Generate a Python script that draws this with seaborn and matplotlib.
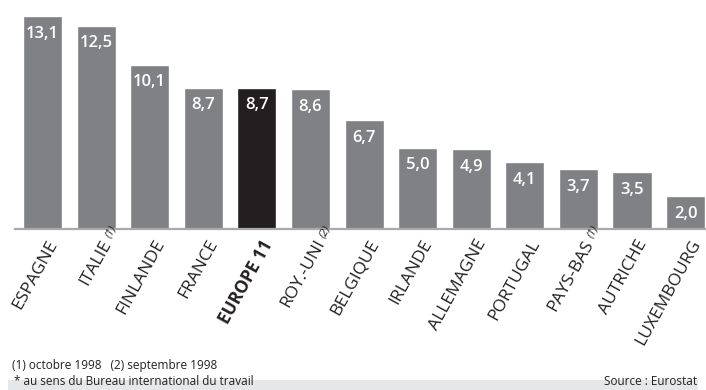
import matplotlib
matplotlib.use("Agg")
import matplotlib.pyplot as plt
import seaborn as sns
import pandas as pd
import numpy as np
from matplotlib.patches import Rectangle
from matplotlib.transforms import ScaledTranslation

countries = ["ESPAGNE", "ITALIE", "FINLANDE", "FRANCE", "EUROPE 11", "ROY.-UNI",
             "BELGIQUE", "IRLANDE", "ALLEMAGNE", "PORTUGAL", "PAYS-BAS", "AUTRICHE", "LUXEMBOURG"]
notes = ["", "(1)", "", "", "", "(2)", "", "", "", "", "(1)", "", ""]
values = [13.1, 12.5, 10.1, 8.7, 8.7, 8.6, 6.7, 5.0, 4.9, 4.1, 3.7, 3.5, 2.0]
value_labels = ["13,1", "12,5", "10,1", "8,7", "8,7", "8,6", "6,7", "5,0", "4,9", "4,1", "3,7", "3,5", "2,0"]
footnote = "(1) octobre 1998   (2) septembre 1998"
band_left = "* au sens du Bureau international du travail"
band_right = "Source : Eurostat"

sns.set_theme(style="white")
plt.rcParams['font.family'] = ['Open Sans', 'DejaVu Sans']

GRAY = "#808184"
BLACK = "#231f20"
colors = [BLACK if c == "EUROPE 11" else GRAY for c in countries]

df = pd.DataFrame({"pays": countries, "taux": values})

DPI = 100
fig = plt.figure(figsize=(7.06, 3.90), dpi=DPI)
ax = fig.add_axes([15/706, 161/390, 691/706, 229/390])
sns.barplot(data=df, x="pays", y="taux", hue="pays", palette=colors, legend=False,
            width=0.73, saturation=1, ax=ax)

ax.set_ylim(0, 14.08)
ax.set_xlim(-0.513, 12.38)
ax.set_xlabel("")
ax.set_ylabel("")
ax.set_yticks([])
for s in ["top", "right", "left"]:
    ax.spines[s].set_visible(False)
ax.spines["bottom"].set_color("#a7a9ac")
ax.spines["bottom"].set_linewidth(1.6)
ax.tick_params(axis="x", length=0, pad=0)

ROT = 61
OFF_X, OFF_Y = 4, -8  # pixels
ax.set_xticks(range(len(countries)))
ax.set_xticklabels(countries, rotation=ROT, ha="right", va="top", rotation_mode="anchor",
                   fontsize=12.5, color="#231f20")
shift = ScaledTranslation(OFF_X / DPI, OFF_Y / DPI, fig.dpi_scale_trans)
for t in ax.get_xticklabels():
    t.set_transform(t.get_transform() + shift)
    if t.get_text() == "EUROPE 11":
        t.set_fontweight("bold")

ang = np.deg2rad(ROT)
gap = 3.5
perp = 1.5
nx = OFF_X + gap * np.cos(ang) + perp * np.sin(ang)
ny = OFF_Y + gap * np.sin(ang) - perp * np.cos(ang)
note_tr = ax.get_xaxis_transform() + ScaledTranslation(nx / DPI, ny / DPI, fig.dpi_scale_trans)
for i, n in enumerate(notes):
    if n:
        ax.text(i, 0, n, transform=note_tr, rotation=ROT, ha="left", va="top",
                rotation_mode="anchor", fontsize=8, fontstyle="italic", color="#231f20",
                clip_on=False)

for i, (v, lab) in enumerate(zip(values, value_labels)):
    ax.text(i, v - 0.6, lab, ha="center", va="top", color="white",
            fontsize=12, fontweight="semibold")

fig.text(12/706, 1 - 366/390, footnote, fontsize=8.5, color="#231f20", va="center", ha="left")
fig.patches.append(Rectangle((8/706, 0), 690/706, 10/390, transform=fig.transFigure,
                             facecolor="#e6e7e8", edgecolor="none", zorder=0))
fig.text(14/706, 2/390, band_left, fontsize=8.5, color="#231f20", va="bottom", ha="left")
fig.text(697/706, 2/390, band_right, fontsize=8.5, color="#231f20", va="bottom", ha="right")

fig.savefig("out.png", dpi=DPI)
